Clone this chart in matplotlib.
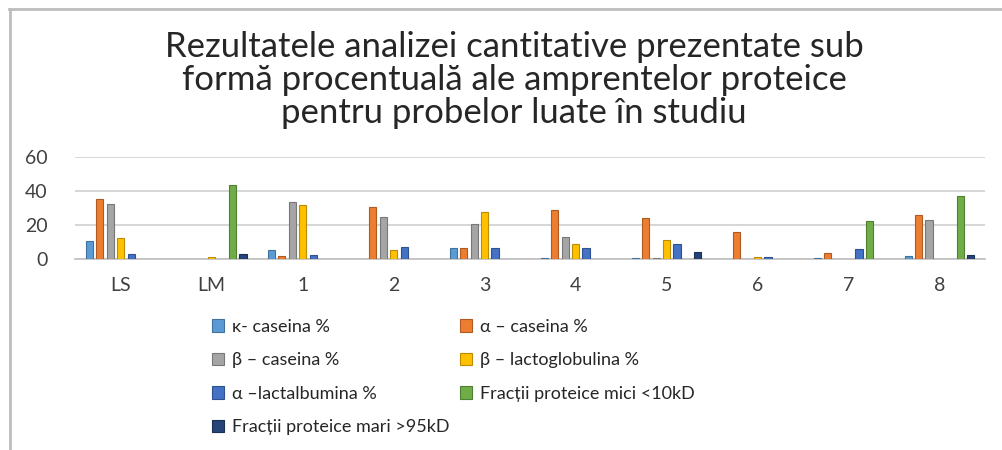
import matplotlib.pyplot as plt
import numpy as np

plt.rcParams['font.family'] = ['Lato', 'DejaVu Sans']

categories = ['LS', 'LM', '1', '2', '3', '4', '5', '6', '7', '8']
series_names = [
    'κ- caseina %',
    'α – caseina %',
    'β – caseina %',
    'β – lactoglobulina %',
    'α –lactalbumina %',
    'Fracții proteice mici <10kD',
    'Fracții proteice mari >95kD',
]
kappa_caseina = [10.8, 0, 5.5, 0, 6.5, 0.8, 0.5, 0, 0.5, 1.8]
alfa_caseina = [35.3, 0, 1.8, 30.4, 6.5, 28.8, 23.9, 16.0, 3.7, 25.9]
beta_caseina = [32.4, 0, 33.3, 24.5, 20.6, 12.7, 0.6, 0, 0, 22.9]
beta_lactoglobulina = [12.4, 1.0, 31.6, 5.3, 27.5, 8.6, 11.2, 1.3, 0, 0]
alfa_lactalbumina = [3.1, 0, 2.4, 7.1, 6.5, 6.5, 8.8, 1.2, 5.7, 0]
fractii_mici = [0, 43.5, 0, 0, 0, 0, 0, 0, 22.4, 37.0]
fractii_mari = [0, 2.9, 0, 0, 0, 0, 4.3, 0, 0, 2.4]

values = [kappa_caseina, alfa_caseina, beta_caseina, beta_lactoglobulina,
          alfa_lactalbumina, fractii_mici, fractii_mari]
colors = ['#5B9BD5', '#ED7D31', '#A5A5A5', '#FFC000', '#4472C4', '#70AD47', '#264478']
edges = ['#41719C', '#AE5A21', '#787878', '#BC8C00', '#2F528F', '#507E32', '#1A2F54']

fig = plt.figure(figsize=(10.02, 4.5), dpi=100)
ax = fig.add_axes([0.075, 0.4244, 0.908, 0.2267])

x = np.arange(len(categories))
slot = 0.115
handles = []
for i, vals in enumerate(values):
    vals = np.array(vals, dtype=float)
    keep = vals > 0
    b = ax.bar(x[keep] + (i - 3) * slot, vals[keep], width=0.078, color=colors[i],
               edgecolor=edges[i], linewidth=0.8, label=series_names[i], zorder=3)
    handles.append(b)

ax.set_xlim(-0.5, len(categories) - 0.5)
ax.set_ylim(0, 60)
ax.set_yticks([0, 20, 40, 60])
ax.set_xticks(x)
ax.set_xticklabels(categories)
ax.yaxis.grid(True, color='#D0D0D0', linewidth=1.2)
ax.set_axisbelow(True)
for s in ['top', 'right', 'left']:
    ax.spines[s].set_visible(False)
ax.spines['bottom'].set_color('#BFBFBF')
ax.spines['bottom'].set_linewidth(1.2)
ax.tick_params(axis='both', length=0, labelsize=14, colors='#404040')
ax.tick_params(axis='x', pad=13)
ax.tick_params(axis='y', pad=20)

fig.text(0.513, 0.822,
         'Rezultatele analizei cantitative prezentate sub\n'
         'formă procentuală ale amprentelor proteice\n'
         'pentru probelor luate în studiu',
         ha='center', va='center', fontsize=25, color='#262626', linespacing=1.05)

order = [0, 2, 4, 6, 1, 3, 5]
leg = fig.legend([handles[k] for k in order], [series_names[k] for k in order],
                 ncol=2, loc='upper left', bbox_to_anchor=(0.195, 0.328),
                 frameon=False, fontsize=13, handlelength=0.7, handleheight=0.7,
                 handletextpad=0.4, columnspacing=0.6, labelspacing=0.97,
                 labelcolor='#262626')

# chart frame lines (top and left)
fig.add_artist(plt.Line2D([0.009, 1.0], [0.98, 0.98], color='#BDBDBD', linewidth=2))
fig.add_artist(plt.Line2D([0.01, 0.01], [0.0, 0.98], color='#BDBDBD', linewidth=2))

fig.savefig('out.png', dpi=100)
